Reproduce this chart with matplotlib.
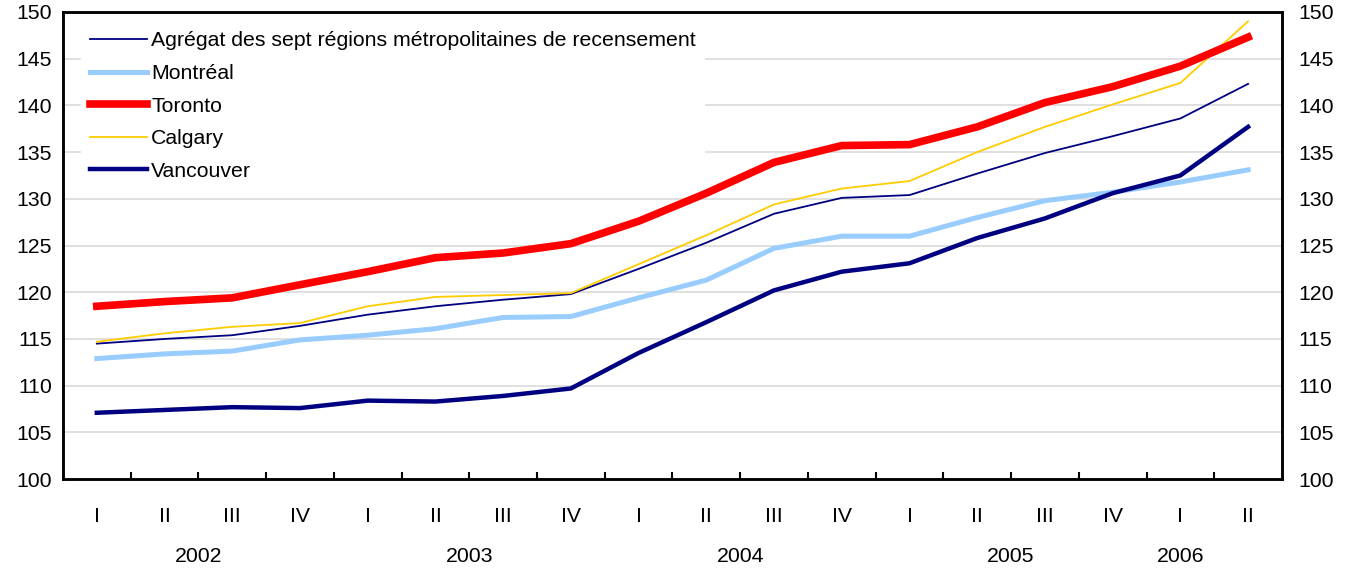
import matplotlib
matplotlib.use("Agg")
import matplotlib.pyplot as plt
import matplotlib.transforms as mtransforms

plt.rcParams['font.family'] = ['Liberation Sans', 'DejaVu Sans']

quarters = ["I", "II", "III", "IV", "I", "II", "III", "IV", "I", "II", "III", "IV",
            "I", "II", "III", "IV", "I", "II"]
years = ["2002", "2003", "2004", "2005", "2006"]
year_pos = [1.5, 5.5, 9.5, 13.5, 16.0]

aggregate = [114.5, 115.0, 115.4, 116.4, 117.6, 118.5, 119.2, 119.8, 122.5, 125.3,
             128.4, 130.1, 130.4, 132.7, 134.9, 136.7, 138.6, 142.3]
montreal = [112.9, 113.4, 113.7, 114.9, 115.4, 116.1, 117.3, 117.4, 119.4, 121.3,
            124.7, 126.0, 126.0, 128.0, 129.8, 130.7, 131.8, 133.1]
toronto = [118.5, 119.0, 119.4, 120.8, 122.2, 123.7, 124.2, 125.2, 127.6, 130.6,
           133.9, 135.7, 135.8, 137.7, 140.3, 142.0, 144.2, 147.3]
calgary = [114.7, 115.6, 116.3, 116.7, 118.5, 119.5, 119.7, 119.9, 123.0, 126.1,
           129.4, 131.1, 131.9, 135.0, 137.7, 140.1, 142.4, 149.0]
vancouver = [107.1, 107.4, 107.7, 107.6, 108.4, 108.3, 108.9, 109.7, 113.5, 116.8,
             120.2, 122.2, 123.1, 125.8, 127.9, 130.6, 132.5, 137.7]

labels = ["Agrégat des sept régions métropolitaines de recensement", "Montréal",
          "Toronto", "Calgary", "Vancouver"]

FS = 15.3

fig = plt.figure(figsize=(13.48, 5.69), dpi=100)
ax = fig.add_axes([0.0467, 0.158, 0.9043, 0.821])

x = list(range(len(quarters)))
ax.plot(x, aggregate, color="#000080", lw=1.3, label=labels[0], zorder=3)
ax.plot(x, montreal, color="#99ccff", lw=3.6, label=labels[1], zorder=3)
ax.plot(x, toronto, color="#ff0000", lw=5.5, label=labels[2], zorder=4)
ax.plot(x, calgary, color="#ffcc00", lw=1.3, label=labels[3], zorder=3)
ax.plot(x, vancouver, color="#000080", lw=3.2, label=labels[4], zorder=3)

ax.set_xlim(-0.5, len(quarters) - 0.5)
ax.set_ylim(100, 150)
ax.set_yticks(range(100, 151, 5))
for v in range(105, 150, 5):
    ax.axhline(v, color="#dddddd", lw=1.3, zorder=1)

ax.set_xticks([i + 0.5 for i in range(len(quarters) - 1)])
ax.set_xticklabels([])
ax.set_xticks(x, minor=True)
ax.set_xticklabels(quarters, minor=True)
ax.tick_params(axis='x', which='major', direction='in', length=5, width=1.5)
ax.tick_params(axis='x', which='minor', length=0, pad=20, labelsize=FS)
ax.tick_params(axis='y', length=0, labelsize=FS, pad=8)

for s in ax.spines.values():
    s.set_linewidth(1.8)

ax2 = ax.twinx()
ax2.set_ylim(100, 150)
ax2.set_yticks(range(100, 151, 5))
ax2.tick_params(axis='y', length=0, labelsize=FS, pad=12)
for s in ax2.spines.values():
    s.set_linewidth(1.8)

trans = mtransforms.blended_transform_factory(ax.transData, ax.transAxes)
for yr, p in zip(years, year_pos):
    ax.text(p, -0.165, yr, transform=trans, ha='center', va='center', fontsize=FS)

leg = ax.legend(loc='upper left', bbox_to_anchor=(0.0096, 0.99), fontsize=FS,
                frameon=True, fancybox=False, edgecolor='white', framealpha=1.0,
                handlelength=2.7, handletextpad=0.2, labelspacing=0.64,
                borderpad=0.4, borderaxespad=0.3)
leg.set_zorder(2)

fig.savefig("out.png", dpi=100)
